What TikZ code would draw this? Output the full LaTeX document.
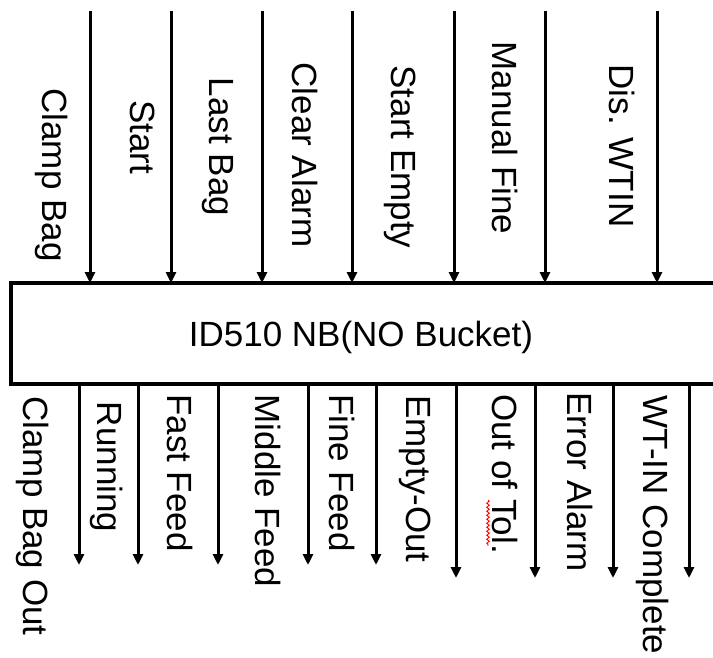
\documentclass[tikz,border=0pt]{standalone}
\usepackage{fontspec}
\setmainfont{Liberation Sans}
\usetikzlibrary{arrows.meta,decorations.pathmorphing}
\tikzset{
  sig/.style={line width=3pt,-{Triangle[length=11pt,width=10pt]}},
  lab/.style={rotate=-90,inner sep=0pt,font=\fontsize{35}{42}\selectfont},
  boxst/.style={draw,line width=4pt,outer sep=0pt,inner sep=0pt,anchor=north west,minimum width=740pt,minimum height=101pt}
}
\begin{document}
\begin{tikzpicture}[x=1pt,y=-1pt]
\path[use as bounding box,clip] (0,0) rectangle (713,658);
\fill[white] (0,0) rectangle (713,658);
\node[boxst] (box) at (11,283) {};
\node[inner sep=0pt,font=\fontsize{35}{42}\selectfont] (title) at (361,337) {ID510 NB(NO Bucket)};
% top inputs
\foreach \x/\n in {90/t1,171/t2,262/t3,352/t4,454/t5,545/t6,657/t7}{
  \coordinate (\n) at (\x,11);
  \draw[sig] (\n) -- (\n |- box.north);
}
\node[lab] (l1) at (52,175) {Clamp Bag};
\node[lab] (l2) at (143,137) {Start};
\node[lab] (l3) at (218,147) {Last Bag};
\node[lab] (l4) at (305,155) {Clear Alarm};
\node[lab] (l5) at (400,157) {Start Empty};
\node[lab] (l6) at (505,138) {Manual Fine};
\node[lab] (l7) at (622,146) {Dis. WTIN};
% bottom outputs
\foreach \x/\y/\n in {79/565/b1,138/565/b2,218/565/b3,308/565/b4,376/565/b5,456/578/b6,535/578/b7,613/578/b8,689/578/b9}{
  \coordinate (\n) at (\x,\y);
  \draw[sig] (\n |- box.south) -- (\n);
}
\node[lab] (o1) at (33,516) {Clamp Bag Out};
\node[lab] (o2) at (107,467) {Running};
\node[lab] (o3) at (180,473) {Fast Feed};
\node[lab] (o4) at (268,491) {Middle Feed};
\node[lab] (o5) at (342,473) {Fine Feed};
\node[lab] (o6) at (415,479) {Empty-Out};
\node[lab] (o7) at (505,474) {Out of Tol.};
\node[lab] (o8) at (580,482) {Error Alarm};
\node[lab] (o9) at (653,525) {WT-IN Complete};
% spell-check underline
\coordinate (w1) at (488,500);
\coordinate (w2) at (488,546);
\draw[red,line width=0.9pt,decorate,decoration={snake,amplitude=1.3pt,segment length=4pt}] (w1) -- (w2);
\end{tikzpicture}
\end{document}
